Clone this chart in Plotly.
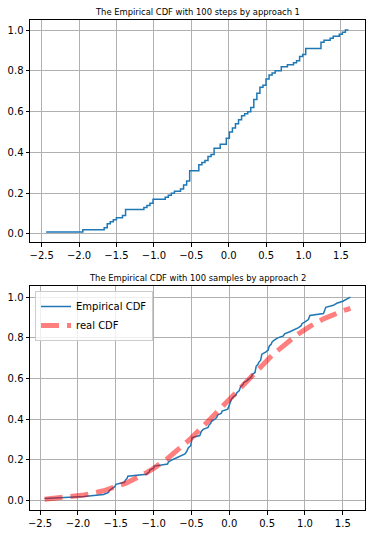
import math
import numpy as np
import plotly.graph_objects as go

# ---- data (sorted sample values) ----
samples = [
    -2.44,
    -1.92,
    -1.66,
    -1.595, -1.585,
    -1.545,
    -1.51, -1.50,
    -1.385, -1.375,
    -1.35, -1.34,
    -1.095,
    -1.06, -1.05,
    -1.00, -0.99,
    -0.815, -0.805,
    -0.76,
    -0.695,
    -0.635,
    -0.585,
    -0.565,
    -0.55, -0.54,
    -0.51, -0.505, -0.50, -0.495, -0.49,
    -0.39, -0.38, -0.37,
    -0.345,
    -0.28, -0.27,
    -0.245, -0.235,
    -0.19,
    -0.165, -0.155,
    -0.105, -0.095,
    -0.02, -0.01, 0.0,
    0.01, 0.02, 0.03,
    0.055,
    0.09, 0.10,
    0.13, 0.14, 0.15,
    0.18, 0.19,
    0.235,
    0.27,
    0.295, 0.305,
    0.34, 0.345, 0.35, 0.355,
    0.38, 0.39,
    0.415, 0.42, 0.425, 0.43,
    0.48,
    0.515, 0.52, 0.53,
    0.555, 0.565,
    0.60,
    0.64,
    0.715, 0.73,
    0.80,
    0.87,
    0.915,
    0.95, 0.96,
    1.005,
    1.045, 1.055, 1.065,
    1.245, 1.255, 1.265, 1.275,
    1.375,
    1.42,
    1.50,
    1.55,
    1.60,
]
N_STEPS = 100
title_top = "The Empirical CDF with 100 steps by approach 1"
title_bottom = "The Empirical CDF with 100 samples by approach 2"
legend_names = ["Empirical CDF", "real CDF"]
x_ticks = [-2.5, -2.0, -1.5, -1.0, -0.5, 0.0, 0.5, 1.0, 1.5]
y_ticks = [0.0, 0.2, 0.4, 0.6, 0.8, 1.0]

# ---- computations ----
xs = np.sort(np.array(samples))
n = len(xs)
grid = np.linspace(xs[0], xs[-1], N_STEPS)
ecdf_grid = np.searchsorted(xs, grid, side="right") / n
y_emp = np.arange(1, n + 1) / n
real_cdf = [0.5 * (1 + math.erf(v / math.sqrt(2))) for v in xs]

W, H = 372, 533
BLUE = "#1f77b4"
FONT = "DejaVu Sans"

fig = go.Figure()
fig.add_trace(go.Scatter(x=grid, y=ecdf_grid, mode="lines",
                         line=dict(color=BLUE, width=1.5, shape="vh"),
                         showlegend=False, xaxis="x", yaxis="y"))
fig.add_trace(go.Scatter(x=xs, y=y_emp, mode="lines", name=legend_names[0],
                         line=dict(color=BLUE, width=1.5),
                         xaxis="x2", yaxis="y2"))
fig.add_trace(go.Scatter(x=xs, y=real_cdf, mode="lines", name=legend_names[1],
                         line=dict(color="red", width=5, dash="18px,8px"),
                         opacity=0.5, xaxis="x2", yaxis="y2"))

common = dict(showgrid=True, gridcolor="#b0b0b0", gridwidth=0.8,
              showline=True, linecolor="black", linewidth=1, mirror=True,
              ticks="outside", ticklen=3.5, tickwidth=0.8, tickcolor="black",
              tickfont=dict(family=FONT, size=10, color="black"),
              zeroline=False, automargin=False, tickformat=".1f",
              tickmode="array")

xdom = [30 / W, 365 / W]
fig.update_layout(
    width=W, height=H,
    margin=dict(l=0, r=0, t=0, b=0),
    paper_bgcolor="white", plot_bgcolor="white",
    xaxis=dict(common, domain=xdom, range=[-2.656, 1.821], anchor="y",
               tickvals=x_ticks),
    yaxis=dict(common, domain=[1 - 242 / H, 1 - 20 / H], range=[-0.0395, 1.0495],
               anchor="x", tickvals=y_ticks),
    xaxis2=dict(common, domain=xdom, range=[-2.633, 1.793], anchor="y2",
                tickvals=x_ticks),
    yaxis2=dict(common, domain=[1 - 510 / H, 1 - 286 / H], range=[-0.046, 1.055],
                anchor="x2", tickvals=y_ticks),
    legend=dict(x=35 / W, y=1 - 291 / H, xanchor="left", yanchor="top",
                bgcolor="rgba(255,255,255,0.8)", bordercolor="#cccccc",
                borderwidth=1, font=dict(family=FONT, size=10, color="black"),
                tracegroupgap=0, itemwidth=30),
    showlegend=True,
    annotations=[
        dict(text=title_top, x=0.5 * (xdom[0] + xdom[1]), y=1 - 11.5 / H,
             xref="paper", yref="paper", xanchor="center", yanchor="middle",
             showarrow=False, font=dict(family=FONT, size=8.4, color="black")),
        dict(text=title_bottom, x=0.5 * (xdom[0] + xdom[1]), y=1 - 277.5 / H,
             xref="paper", yref="paper", xanchor="center", yanchor="middle",
             showarrow=False, font=dict(family=FONT, size=8.4, color="black")),
    ],
)

fig.write_html(
    "out.html",
    config={"displayModeBar": False},
    post_script="document.body.style.margin='0';document.body.style.overflow='hidden';",
)
